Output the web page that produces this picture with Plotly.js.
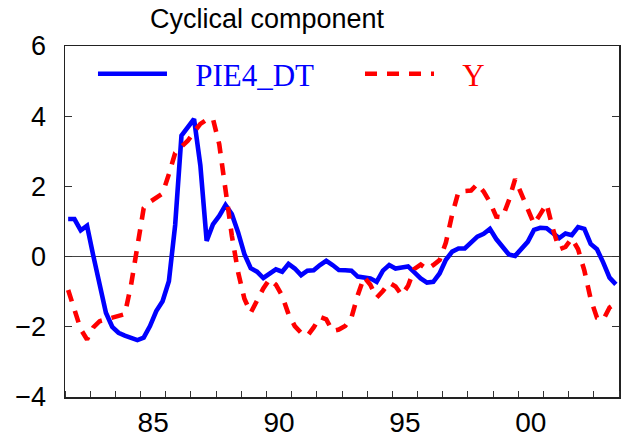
<!DOCTYPE html>
<html><head><meta charset="utf-8">
<script src="https://cdn.plot.ly/plotly-3.0.1.min.js"></script>
<style>html,body{margin:0;padding:0;background:#fff}#chart{width:629px;height:439px}</style>
</head><body><div id="chart"></div>
<script>
// Quarterly observations, 1982Q1 .. 2003Q4
const startYear = 1982;
const seriesNames = ['PIE4_DT', 'Y'];
const pie4dt = [
  1.07, 1.07, 0.75, 0.88, 0.02, -0.84, -1.60, -2.00, -2.17, -2.25,
  -2.32, -2.38, -2.31, -1.98, -1.55, -1.27, -0.70, 0.90, 3.45, 3.69,
  3.92, 2.60, 0.45, 0.92, 1.16, 1.47, 1.21, 0.69, 0.07, -0.33,
  -0.43, -0.61, -0.47, -0.36, -0.43, -0.21, -0.34, -0.53, -0.40, -0.39,
  -0.24, -0.12, -0.24, -0.38, -0.39, -0.40, -0.57, -0.60, -0.62, -0.72,
  -0.40, -0.24, -0.34, -0.31, -0.28, -0.45, -0.62, -0.74, -0.72, -0.48,
  -0.09, 0.14, 0.23, 0.23, 0.38, 0.57, 0.65, 0.79, 0.50, 0.26,
  0.06, 0.02, 0.21, 0.42, 0.76, 0.82, 0.81, 0.67, 0.53, 0.66,
  0.61, 0.84, 0.79, 0.36, 0.21, -0.17, -0.60, -0.79
];
const yCycle = [
  -0.95, -1.55, -2.07, -2.36, -2.02, -1.84, -1.79, -1.73, -1.68, -1.64,
  -0.80, 0.30, 1.38, 1.56, 1.69, 1.80, 2.35, 2.95, 3.13, 3.30,
  3.55, 3.78, 3.90, 3.93, 3.20, 1.85, 0.60, -0.45, -1.20, -1.60,
  -1.25, -0.91, -0.64, -0.80, -1.12, -1.64, -1.98, -2.17, -2.26, -2.02,
  -1.72, -1.79, -2.12, -2.08, -1.98, -1.74, -1.10, -0.58, -0.80, -1.17,
  -0.98, -0.74, -0.85, -1.10, -0.83, -0.35, -0.23, -0.36, -0.24, -0.10,
  0.40, 1.20, 1.85, 1.85, 1.88, 2.07, 1.85, 1.55, 1.14, 1.12,
  1.60, 2.21, 1.79, 1.31, 0.93, 1.21, 1.50, 0.79, 0.21, 0.28,
  0.52, 0.21, -0.40, -1.21, -1.74, -1.80, -1.45, -1.33
];
const tickYears = [1985, 1990, 1995, 2000];
const tickLabels = ['85', '90', '95', '00'];
const yTicks = [-4, -2, 0, 2, 4, 6];

const xs = pie4dt.map((_, i) => startYear + i / 4);
const halfQ = 0.125;
const pad = '\u00a0\u00a0\u00a0';

const traces = [
  {x: xs, y: pie4dt, type: 'scatter', mode: 'lines', legend: 'legend',
   name: pad + '<span style="color:#0000ff">' + seriesNames[0] + '</span>',
   line: {color: '#0000ff', width: 4.6}},
  {x: xs, y: yCycle, type: 'scatter', mode: 'lines', legend: 'legend2',
   name: pad + '<span style="color:#ff0000">' + seriesNames[1] + '</span>',
   line: {color: '#ff0000', width: 4.6, dash: '12px,10px'}}
];

const legendBase = {
  orientation: 'h', xanchor: 'left', y: 0.997, yanchor: 'top',
  font: {family: 'Liberation Serif, Times New Roman, serif', size: 31},
  bgcolor: 'rgba(0,0,0,0)', borderwidth: 0, itemwidth: 69
};

const layout = {
  width: 629, height: 439,
  margin: {l: 65, r: 10, t: 46, b: 42},
  paper_bgcolor: '#ffffff', plot_bgcolor: '#ffffff',
  font: {family: 'Liberation Sans, Arial, sans-serif', color: '#000'},
  title: {text: 'Cyclical component', font: {size: 27, color: '#000'},
          xref: 'container', x: 0.4245, xanchor: 'center',
          yref: 'container', y: 1 - 19 / 439, yanchor: 'middle'},
  showlegend: true,
  legend: Object.assign({}, legendBase, {x: 0.0505}),
  legend2: Object.assign({}, legendBase, {x: 0.5325}),
  xaxis: {
    range: [startYear - halfQ, startYear + pie4dt.length / 4 - halfQ],
    tickmode: 'array', tickvals: tickYears.map(y => y + 0.375), ticktext: tickLabels,
    ticks: '', tickfont: {size: 28},
    minor: {tick0: startYear - halfQ, dtick: 1, ticks: 'inside', ticklen: 6, tickcolor: '#333', tickwidth: 1},
    showline: true, linecolor: '#222', linewidth: 1.5, mirror: true,
    showgrid: false, zeroline: false, fixedrange: true
  },
  yaxis: {
    range: [-4, 6], tickmode: 'array', tickvals: yTicks,
    ticks: 'inside', ticklen: 7, tickcolor: '#333', tickwidth: 1,
    tickfont: {size: 27}, ticklabelstandoff: 12,
    showline: true, linecolor: '#222', linewidth: 1.5, mirror: 'ticks',
    showgrid: false, zeroline: true, zerolinecolor: '#444', zerolinewidth: 1.2, fixedrange: true
  }
};

Plotly.newPlot('chart', traces, layout, {displayModeBar: false, staticPlot: true});
</script>
</body></html>
